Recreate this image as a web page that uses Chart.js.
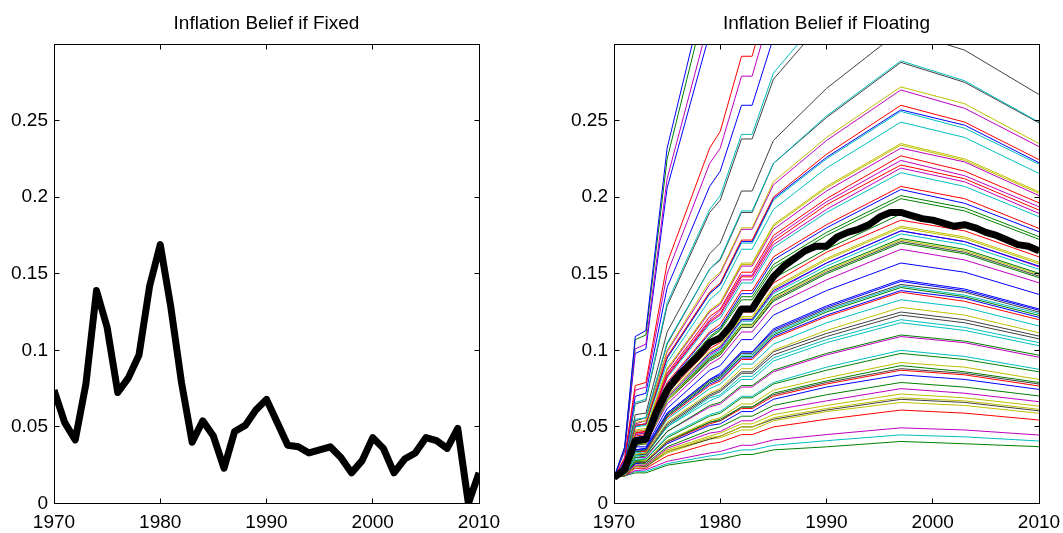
<!DOCTYPE html>
<html>
<head>
<meta charset="utf-8">
<script src="https://cdn.jsdelivr.net/npm/chart.js@4.4.0/dist/chart.umd.min.js"></script>
<style>
  html, body { margin: 0; padding: 0; background: #fff; }
  #wrap { position: relative; width: 1063px; height: 533px; overflow: hidden; }
  canvas { position: absolute; top: 0; }
  #fixed { left: 0; }
  #floating { left: 560px; }
</style>
</head>
<body>
<div id="wrap">
  <canvas id="fixed" width="503" height="533" style="width:503px;height:533px"></canvas>
  <canvas id="floating" width="503" height="533" style="width:503px;height:533px"></canvas>
</div>
<script>
// years for the yearly series
const years = [];
for (let yr = 1970; yr <= 2010; yr++) years.push(yr);

// left panel: inflation belief if fixed
const fixedBelief = [0.074, 0.053, 0.0415, 0.078, 0.139, 0.115, 0.0725, 0.082, 0.097, 0.142,
  0.169, 0.128, 0.079, 0.040, 0.054, 0.044, 0.023, 0.047, 0.051, 0.061,
  0.068, 0.053, 0.038, 0.037, 0.033, 0.035, 0.037, 0.030, 0.020, 0.028,
  0.043, 0.036, 0.020, 0.029, 0.033, 0.043, 0.041, 0.036, 0.049, 0.0,
  0.020];

// right panel: thick line
const floatBelief = [0.017, 0.022, 0.041, 0.042, 0.060, 0.074, 0.083, 0.090, 0.097, 0.105,
  0.108, 0.116, 0.127, 0.127, 0.138, 0.148, 0.155, 0.160, 0.165, 0.168,
  0.168, 0.174, 0.177, 0.179, 0.182, 0.187, 0.190, 0.190, 0.188, 0.186,
  0.185, 0.183, 0.181, 0.182, 0.180, 0.177, 0.175, 0.172, 0.169, 0.168,
  0.165];

// right panel: thin lines, values at these years
const pathYears = [1970, 1971, 1972, 1973, 1975, 1979, 1980, 1982, 1983, 1985, 1990, 1997, 2003, 2010];
const floatPaths = [
  [.017,.037,.109,.113,.232,.347,.364,.439,.439,.515,.591,.677,.647,.581],
  [.017,.036,.107,.110,.225,.337,.353,.427,.427,.500,.574,.657,.628,.564],
  [.017,.035,.101,.104,.212,.317,.332,.401,.401,.470,.539,.617,.590,.530],
  [.017,.034,.098,.101,.206,.307,.322,.388,.388,.455,.522,.597,.571,.513],
  [.017,.030,.077,.079,.157,.232,.243,.292,.292,.342,.391,.447,.428,.385],
  [.017,.029,.074,.076,.150,.222,.232,.279,.279,.327,.374,.427,.409,.368],
  [.017,.028,.070,.072,.141,.207,.217,.260,.260,.304,.348,.397,.380,.342],
  [.017,.028,.066,.068,.131,.192,.201,.241,.241,.281,.322,.367,.351,.316],
  [.017,.027,.065,.067,.129,.190,.198,.238,.238,.277,.317,.362,.346,.312],
  [.017,.026,.058,.059,.112,.163,.170,.204,.204,.237,.271,.309,.296,.267],
  [.017,.025,.055,.056,.105,.153,.160,.191,.191,.222,.253,.289,.276,.249],
  [.017,.025,.054,.056,.104,.153,.159,.190,.190,.222,.252,.288,.275,.2485],
  [.017,.025,.053,.054,.100,.145,.151,.180,.180,.210,.239,.272,.261,.235],
  [.017,.025,.052,.054,.099,.143,.150,.179,.179,.208,.237,.270,.258,.233],
  [.017,.024,.051,.052,.096,.138,.144,.172,.172,.200,.228,.260,.249,.2245],
  [.017,.024,.051,.052,.095,.137,.143,.171,.171,.199,.226,.257,.247,.2225],
  [.017,.024,.050,.052,.095,.137,.143,.170,.170,.198,.225,.256,.245,.2215],
  [.017,.024,.050,.051,.092,.133,.139,.166,.166,.192,.219,.249,.239,.2155],
  [.017,.024,.048,.049,.088,.126,.131,.157,.157,.182,.207,.235,.225,.2035],
  [.017,.024,.047,.048,.088,.126,.131,.156,.156,.181,.206,.234,.224,.2025],
  [.017,.023,.047,.048,.087,.125,.130,.155,.155,.179,.204,.232,.223,.201],
  [.017,.023,.046,.047,.085,.122,.127,.151,.151,.175,.199,.227,.217,.1963],
  [.017,.023,.046,.047,.084,.120,.126,.149,.149,.173,.197,.224,.214,.1937],
  [.017,.023,.046,.047,.083,.119,.124,.148,.148,.171,.195,.221,.212,.1916],
  [.017,.023,.045,.046,.083,.118,.123,.146,.146,.169,.192,.219,.210,.1894],
  [.017,.023,.045,.046,.082,.117,.121,.144,.144,.167,.190,.216,.207,.1872],
  [.017,.023,.044,.045,.079,.112,.117,.139,.139,.161,.182,.207,.199,.1796],
  [.017,.023,.043,.044,.078,.111,.115,.137,.137,.159,.180,.205,.196,.1774],
  [.017,.023,.043,.044,.077,.109,.114,.135,.135,.156,.177,.201,.193,.1742],
  [.017,.022,.042,.043,.076,.108,.113,.133,.133,.154,.175,.199,.191,.1725],
  [.017,.022,.041,.042,.073,.103,.107,.127,.127,.147,.166,.189,.181,.1637],
  [.017,.022,.041,.041,.072,.101,.105,.125,.125,.144,.164,.185,.178,.161],
  [.017,.022,.040,.041,.070,.099,.103,.122,.122,.141,.160,.181,.174,.1575],
  [.017,.022,.040,.041,.070,.099,.103,.121,.121,.140,.159,.180,.173,.1565],
  [.017,.022,.040,.040,.070,.098,.102,.120,.120,.139,.157,.178,.171,.155],
  [.017,.022,.040,.040,.069,.097,.101,.120,.120,.138,.157,.178,.171,.1545],
  [.017,.022,.039,.040,.069,.096,.100,.119,.119,.137,.155,.176,.169,.1529],
  [.017,.022,.039,.040,.068,.095,.099,.117,.117,.135,.153,.173,.166,.1503],
  [.017,.022,.039,.039,.067,.095,.098,.116,.116,.134,.152,.172,.165,.1495],
  [.017,.022,.039,.039,.067,.094,.098,.115,.115,.133,.151,.171,.164,.1485],
  [.017,.022,.038,.039,.067,.093,.097,.115,.115,.132,.150,.170,.163,.1475],
  [.017,.021,.038,.039,.065,.091,.095,.112,.112,.129,.146,.166,.159,.1441],
  [.017,.021,.037,.037,.062,.087,.090,.107,.107,.123,.139,.157,.151,.1365],
  [.017,.021,.035,.036,.059,.081,.085,.099,.099,.114,.129,.146,.140,.127],
  [.017,.021,.035,.036,.059,.081,.084,.099,.099,.113,.128,.145,.139,.1262],
  [.017,.021,.035,.035,.058,.080,.083,.098,.098,.112,.127,.143,.138,.125],
  [.017,.021,.035,.035,.058,.080,.083,.097,.097,.111,.126,.142,.136,.124],
  [.017,.021,.034,.035,.057,.079,.082,.096,.096,.110,.125,.141,.135,.1228],
  [.017,.021,.034,.035,.057,.078,.081,.095,.095,.109,.123,.139,.134,.1215],
  [.017,.021,.034,.034,.056,.077,.080,.094,.094,.108,.122,.138,.132,.120],
  [.017,.020,.033,.034,.055,.075,.078,.091,.091,.104,.118,.133,.128,.1159],
  [.017,.020,.032,.033,.053,.072,.075,.088,.088,.100,.113,.128,.123,.1115],
  [.017,.020,.032,.033,.052,.071,.074,.086,.086,.099,.111,.125,.120,.1093],
  [.017,.020,.032,.032,.051,.070,.073,.085,.085,.097,.109,.123,.118,.1075],
  [.017,.020,.031,.032,.050,.069,.071,.083,.083,.095,.107,.120,.115,.105],
  [.017,.020,.031,.032,.050,.067,.070,.081,.081,.093,.105,.118,.113,.103],
  [.017,.020,.030,.031,.047,.064,.066,.077,.077,.087,.098,.110,.106,.0968],
  [.017,.020,.030,.030,.047,.063,.065,.076,.076,.086,.097,.109,.105,.0955],
  [.017,.019,.029,.029,.044,.058,.060,.070,.070,.079,.089,.100,.096,.0876],
  [.017,.019,.028,.029,.043,.057,.059,.069,.069,.078,.087,.098,.094,.086],
  [.017,.019,.028,.028,.041,.054,.056,.065,.065,.074,.082,.092,.089,.081],
  [.017,.019,.027,.028,.041,.053,.055,.063,.063,.072,.080,.090,.086,.079],
  [.017,.019,.027,.027,.040,.053,.054,.063,.063,.071,.079,.088,.085,.078],
  [.017,.019,.027,.027,.040,.052,.054,.062,.062,.070,.078,.087,.084,.0767],
  [.017,.019,.026,.027,.039,.051,.052,.060,.060,.068,.076,.084,.081,.0745],
  [.017,.019,.026,.026,.037,.048,.050,.057,.057,.064,.071,.079,.076,.0702],
  [.017,.019,.025,.025,.036,.046,.047,.054,.054,.061,.067,.075,.072,.0665],
  [.017,.019,.025,.025,.035,.044,.046,.052,.052,.058,.064,.0715,.069,.0636],
  [.017,.019,.024,.025,.034,.043,.044,.050,.050,.056,.062,.069,.067,.0615],
  [.017,.018,.024,.024,.034,.042,.044,.050,.050,.055,.061,.068,.066,.0605],
  [.017,.018,.024,.024,.033,.042,.043,.048,.048,.054,.060,.066,.064,.0589],
  [.017,.018,.023,.023,.031,.039,.040,.045,.045,.050,.055,.061,.059,.0545],
  [.017,.018,.0215,.022,.0275,.033,.034,.038,.038,.0415,.045,.0494,.048,.0447],
  [.017,.018,.021,.021,.026,.031,.032,.035,.035,.038,.041,.0448,.0435,.0408],
  [.017,.018,.020,.020,.025,.029,.029,.032,.032,.035,.037,.0405,.039,.0371]
];
// colour code of each thin line (matlab letters)
const pathColors = 'bgmbrmbckkckymrbccyymrmrmcrbgggryybmcgykgmbbbkcgbrcykkccgmcgygkrbgmyykyrmcg'.split('');

const MATLAB = { b: '#0000ff', g: '#008000', r: '#ff0000', c: '#00bfbf', m: '#bf00bf', y: '#bfbf00', k: '#404040' };
const FONT = '"Liberation Sans", Arial, Helvetica, sans-serif';

// box with inward ticks + title, like matlab axes
const boxPlugin = {
  id: 'box',
  afterDraw(chart, args, opts) {
    const ctx = chart.ctx;
    const a = chart.chartArea;
    const xs = chart.scales.x, ys = chart.scales.y;
    const L = Math.floor(a.left) + 0.5, R = Math.floor(a.right) + 0.5;
    const T = Math.floor(a.top) + 0.5, B = Math.floor(a.bottom) + 0.5;
    ctx.save();
    ctx.strokeStyle = '#000';
    ctx.lineWidth = 1;
    ctx.strokeRect(L, T, R - L, B - T);
    ctx.beginPath();
    xs.ticks.forEach(t => {
      const px = Math.floor(xs.getPixelForValue(t.value)) + 0.5;
      ctx.moveTo(px, B); ctx.lineTo(px, B - 5);
      ctx.moveTo(px, T); ctx.lineTo(px, T + 5);
    });
    ys.ticks.forEach(t => {
      const py = Math.floor(ys.getPixelForValue(t.value)) + 0.5;
      ctx.moveTo(L, py); ctx.lineTo(L + 5, py);
      ctx.moveTo(R, py); ctx.lineTo(R - 5, py);
    });
    ctx.stroke();
    ctx.fillStyle = '#000';
    ctx.font = '19px ' + FONT;
    ctx.textAlign = 'center';
    ctx.textBaseline = 'alphabetic';
    ctx.fillText(opts.text, (a.left + a.right) / 2, 28.5);
    ctx.restore();
  }
};

function makeOptions(title) {
  const tickFont = { family: FONT, size: 19 };
  return {
    responsive: false,
    animation: false,
    devicePixelRatio: 1,
    layout: { padding: { top: 44, right: 24, bottom: 0, left: 0 } },
    plugins: {
      legend: { display: false },
      tooltip: { enabled: false },
      box: { text: title }
    },
    scales: {
      x: {
        type: 'linear', min: 1970, max: 2010,
        grid: { display: false, drawTicks: false },
        border: { display: false },
        ticks: { stepSize: 10, autoSkip: false, maxRotation: 0, padding: 8, color: '#000', font: tickFont,
          callback: v => String(v) },
        afterFit: s => { s.height = 29.5; s.paddingLeft = 0; s.paddingRight = 0; }
      },
      y: {
        type: 'linear', min: 0, max: 0.3,
        grid: { display: false, drawTicks: false },
        border: { display: false },
        ticks: { stepSize: 0.05, padding: 6, color: '#000', font: tickFont,
          callback: v => v > 0.29 ? '' : String(Math.round(v * 100) / 100) },
        afterFit: s => { s.width = 54; s.paddingTop = 0; s.paddingBottom = 0; }
      }
    }
  };
}

function points(xv, yv) {
  return xv.map((x, i) => ({ x: x, y: yv[i] }));
}

// 左图
new Chart(document.getElementById('fixed'), {
  type: 'line',
  data: {
    datasets: [{
      data: points(years, fixedBelief),
      borderColor: '#000', borderWidth: 7, pointRadius: 0, tension: 0,
      borderJoinStyle: 'round', clip: 0
    }]
  },
  options: makeOptions('Inflation Belief if Fixed'),
  plugins: [boxPlugin]
});

// 右图
const floatSets = [{
  data: points(years, floatBelief),
  borderColor: '#000', borderWidth: 7, pointRadius: 0, tension: 0,
  borderJoinStyle: 'round', clip: 0, order: 0
}];
floatPaths.forEach((p, i) => {
  floatSets.push({
    data: points(pathYears, p),
    borderColor: MATLAB[pathColors[i % pathColors.length]],
    borderWidth: 1, pointRadius: 0, tension: 0, clip: 0, order: 1
  });
});

new Chart(document.getElementById('floating'), {
  type: 'line',
  data: { datasets: floatSets },
  options: makeOptions('Inflation Belief if Floating'),
  plugins: [boxPlugin]
});
</script>
</body>
</html>
